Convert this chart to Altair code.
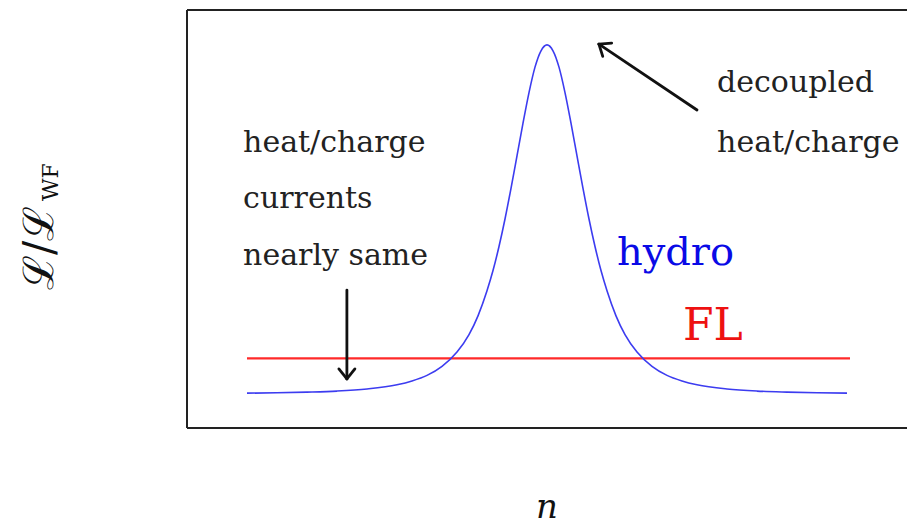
import math
import altair as alt
import pandas as pd

# Hydrodynamic Lorenz ratio vs. density: sharp peak on a flat baseline
n_vals = [-1.0, -0.9, -0.8, -0.7, -0.6, -0.5, -0.45, -0.4, -0.35, -0.3, -0.26,
          -0.23, -0.2, -0.18, -0.16, -0.14, -0.12, -0.1, -0.08, -0.06, -0.04,
          -0.02, 0.0, 0.02, 0.04, 0.06, 0.08, 0.1, 0.12, 0.14, 0.16, 0.18, 0.2,
          0.23, 0.26, 0.3, 0.35, 0.4, 0.45, 0.5, 0.6, 0.7, 0.8, 0.9, 1.0]
hydro_vals = [0.100, 0.101, 0.103, 0.106, 0.112, 0.124, 0.135, 0.151, 0.177,
              0.218, 0.268, 0.322, 0.394, 0.452, 0.521, 0.600, 0.688, 0.781,
              0.875, 0.963, 1.036, 1.083, 1.100, 1.083, 1.036, 0.963, 0.875,
              0.781, 0.688, 0.600, 0.521, 0.452, 0.394, 0.322, 0.268, 0.218,
              0.177, 0.151, 0.135, 0.124, 0.112, 0.106, 0.103, 0.101, 0.100]

# Fermi-liquid value: constant across density
fl_n = [-1.0, 1.01]
fl_vals = [0.2, 0.2]

# Annotation text: label, left x, baseline y, colour, size
label_text = ["heat/charge", "currents", "nearly  same", "decoupled", "heat/charge", "hydro", "FL"]
label_x = [-1.013, -1.013, -1.013, 0.567, 0.567, 0.233, 0.453]
label_y = [0.792, 0.632, 0.468, 0.965, 0.792, 0.468, 0.253]
label_color = ["#222222"] * 5 + ["#0a0ae6", "#ee1111"]
label_size = [30, 30, 30, 30, 30, 40, 44]

# Arrows: tail -> tip
arrow_tail_x = [-0.667, 0.5]
arrow_tail_y = [0.396, 0.913]
arrow_tip_x = [-0.667, 0.173]
arrow_tip_y = [0.141, 1.102]

W, H = 720, 418
X_DOM = [-1.2, 1.2]
Y_DOM = [0.0, 1.2]
sx = W / (X_DOM[1] - X_DOM[0])
sy = H / (Y_DOM[1] - Y_DOM[0])

x_scale = alt.Scale(domain=X_DOM, nice=False, zero=False)
y_scale = alt.Scale(domain=Y_DOM, nice=False, zero=False)

curve = pd.DataFrame({"n": n_vals, "L": hydro_vals})
fl = pd.DataFrame({"n": fl_n, "L": fl_vals})
labels = pd.DataFrame({"t": label_text, "x": label_x, "y": label_y,
                       "c": label_color, "s": label_size})

# arrow shafts and open heads
segs = []
for tx, ty, hx, hy in zip(arrow_tail_x, arrow_tail_y, arrow_tip_x, arrow_tip_y):
    segs.append({"x": tx, "y": ty, "x2": hx, "y2": hy})
    dxp, dyp = (hx - tx) * sx, (hy - ty) * sy
    d = math.hypot(dxp, dyp)
    ux, uy = dxp / d, dyp / d
    back, half = 10.0, 8.0
    for s in (1, -1):
        wx = -back * ux + s * half * (-uy)
        wy = -back * uy + s * half * ux
        segs.append({"x": hx, "y": hy, "x2": hx + wx / sx, "y2": hy + wy / sy})
arrows = pd.DataFrame(segs)

X = alt.X("n:Q", scale=x_scale, axis=None)
Y = alt.Y("L:Q", scale=y_scale, axis=None)

hydro_line = alt.Chart(curve).mark_line(
    color="#3c3cf0", strokeWidth=1.6, interpolate="monotone"
).encode(x=X, y=Y)

fl_line = alt.Chart(fl).mark_line(color="#ff2a2a", strokeWidth=2.2).encode(x=X, y=Y)

arrow_layer = alt.Chart(arrows).mark_rule(color="#111111", strokeWidth=2.8, strokeCap="round").encode(
    x=alt.X("x:Q", scale=x_scale, axis=None),
    y=alt.Y("y:Q", scale=y_scale, axis=None),
    x2="x2:Q", y2="y2:Q",
)

text_layer = alt.Chart(labels).mark_text(
    font="DejaVu Serif", align="left", baseline="alphabetic"
).encode(
    x=alt.X("x:Q", scale=x_scale, axis=None),
    y=alt.Y("y:Q", scale=y_scale, axis=None),
    text="t:N",
    color=alt.Color("c:N", scale=None),
    size=alt.Size("s:Q", scale=None),
)

# frame: left, top and bottom edges
frame_style = dict(color="#222222", strokeWidth=2)
frame_left = alt.Chart(curve).mark_rule(**frame_style).encode(
    x=alt.value(0), y=alt.value(0), y2=alt.value(H))
frame_top = alt.Chart(curve).mark_rule(**frame_style).encode(
    x=alt.value(0), x2=alt.value(W), y=alt.value(0))
frame_bottom = alt.Chart(curve).mark_rule(**frame_style).encode(
    x=alt.value(0), x2=alt.value(W), y=alt.value(H))

# axis titles
x_title = alt.Chart(pd.DataFrame({"t": ["n"]})).mark_text(
    font="DejaVu Serif", fontStyle="italic", fontSize=34, align="center",
    baseline="alphabetic", color="#111111"
).encode(x=alt.value(W / 2), y=alt.value(508), text="t:N")

y_title_main = alt.Chart(pd.DataFrame({"t": ["ℒ/ℒ"]})).mark_text(
    font="DejaVu Serif", fontSize=42, align="left", baseline="alphabetic",
    angle=270, color="#111111"
).encode(x=alt.value(-134), y=alt.value(280), text="t:N")

y_title_sub = alt.Chart(pd.DataFrame({"t": ["WF"]})).mark_text(
    font="DejaVu Serif", fontSize=22, align="left", baseline="alphabetic",
    angle=270, color="#111111"
).encode(x=alt.value(-129), y=alt.value(191), text="t:N")

chart = alt.layer(
    frame_left, frame_top, frame_bottom,
    fl_line, hydro_line, arrow_layer, text_layer,
    x_title, y_title_main, y_title_sub,
).properties(
    width=W, height=H,
    autosize=alt.AutoSizeParams(type="none"),
    padding={"left": 187, "top": 10, "right": 0, "bottom": 103},
).configure_view(stroke=None).configure(background="white")

chart.save("out.html", embed_options={"renderer": "svg", "actions": False})
